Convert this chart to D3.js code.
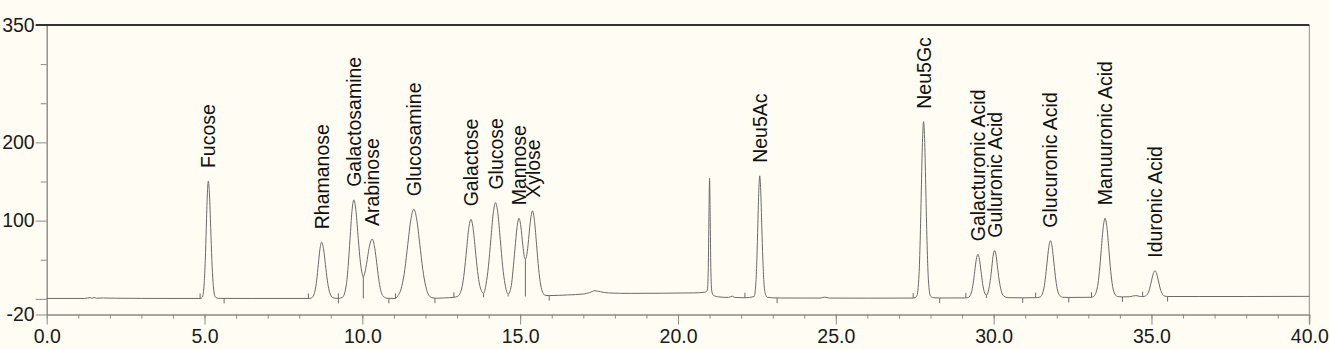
<!DOCTYPE html>
<html lang="en">
<head>
<meta charset="UTF-8">
<script src="https://d3js.org/d3.v7.min.js"></script>
<title>Monosaccharide chromatogram</title>
<style>
  body { margin: 0; background: #fffdf3; }
  svg { display: block; }
  text { font-family: "Liberation Sans", Arial, sans-serif; }
</style>
</head>
<body>
<svg id="chart" width="1329" height="349"></svg>
<script>
// retention time (min) and detector signal
const traceTime = [0, 1.2, 1.38, 1.44, 1.5, 1.58, 1.8, 2.2, 3.0, 4.0, 4.86, 4.93, 4.99, 5.024, 5.056, 5.088, 5.12, 5.158, 5.195, 5.233, 5.27, 5.30, 5.345, 5.45, 6.5,
  8.29, 8.395, 8.50, 8.553, 8.605, 8.658, 8.71, 8.77, 8.83, 8.89, 8.95, 9.01, 9.07, 9.24,
  9.37, 9.49, 9.55, 9.61, 9.67, 9.73, 9.80, 9.87, 9.94, 9.99, 10.03, 10.07, 10.13, 10.18, 10.24, 10.31, 10.38, 10.44, 10.50, 10.56, 10.62, 10.70, 10.78, 10.84,
  11.05, 11.12, 11.25, 11.345, 11.44, 11.535, 11.63, 11.725, 11.82, 11.915, 12.01, 12.10, 12.20, 12.35, 12.6, 12.9,
  13.02, 13.16, 13.23, 13.30, 13.37, 13.44, 13.51, 13.58, 13.65, 13.72, 13.79, 13.84, 13.92, 13.995, 14.07, 14.145, 14.22, 14.295, 14.37, 14.445, 14.52, 14.62,
  14.72, 14.77, 14.835, 14.90, 14.96, 15.02, 15.085, 15.13, 15.165, 15.20, 15.25, 15.32, 15.39, 15.455, 15.52, 15.585, 15.65, 15.715, 15.78, 15.92,
  16.5, 17.0, 17.2, 17.37, 17.55, 17.8, 18.5, 19.5, 20.5, 20.85, 20.93, 20.96, 20.98, 21.0, 21.02, 21.04, 21.07, 21.12, 21.3, 21.6, 21.72, 21.8, 22.12,
  22.41, 22.47, 22.50, 22.53, 22.56, 22.59, 22.62, 22.655, 22.688, 22.72, 22.77, 22.83, 23.14, 24.5, 24.65, 24.8, 26.0,
  27.45, 27.564, 27.636, 27.672, 27.708, 27.744, 27.78, 27.816, 27.852, 27.888, 27.924, 27.96, 28.0, 28.1, 28.29,
  29.12, 29.2, 29.3, 29.35, 29.4, 29.45, 29.50, 29.55, 29.60, 29.65, 29.70, 29.77, 29.83, 29.88, 29.93, 29.98, 30.03, 30.08, 30.13, 30.19, 30.25, 30.33, 30.45, 30.92,
  31.33, 31.47, 31.58, 31.635, 31.69, 31.745, 31.80, 31.855, 31.91, 31.97, 32.03, 32.10, 32.20, 32.38,
  33.1, 33.17, 33.29, 33.35, 33.41, 33.47, 33.53, 33.59, 33.65, 33.71, 33.77, 33.84, 33.92, 34.08, 34.3, 34.5, 34.65,
  34.72, 34.78, 34.89, 34.945, 35.0, 35.055, 35.11, 35.165, 35.22, 35.28, 35.34, 35.42, 35.51, 36.5, 38.0, 40.0];
const traceSignal = [0.5, 0.5, 1.6, 0.7, 1.8, 0.8, 1.1, 0.8, 0.6, 0.5, 0.5, 2.2, 20.5, 49.3, 91.5, 132.8, 150.5, 132.8, 91.5, 49.3, 20.8, 8.9, 2.2, 0.6, 0.5,
  0.5, 1.3, 10.2, 23.9, 44.1, 63.9, 72.3, 63.9, 44.1, 23.9, 10.2, 3.7, 1.3, 0.6,
  1.9, 17.5, 41.5, 77, 111.6, 126.5, 111.6, 77, 46, 33, 28, 32, 44, 57, 70, 76.5, 68, 51, 31, 15, 6, 2, 0.8, 0.6,
  0.5, 3.5, 15.9, 37.5, 69.7, 101, 114.5, 101, 69.7, 37.5, 15.9, 5, 1.5, 0.8, 1.2, 2,
  3.1, 15.4, 34.3, 62.4, 89.8, 101.6, 89.8, 62.5, 35, 17, 9, 7, 19, 41.7, 75.6, 108.8, 123, 108.8, 75.6, 41.7, 19, 6,
  17, 35.5, 63.7, 91.2, 103, 93, 68, 54.3, 50.5, 54, 69, 98, 112.5, 99, 69, 38.4, 17.7, 8.3, 4.7, 4.2,
  5, 6.2, 8, 10.4, 9, 7.5, 7, 7.2, 7.6, 8.5, 11, 40, 105, 154, 105, 40, 10, 4.5, 2.5, 1.8, 3.5, 1.8, 1.4,
  2.9, 22, 52, 95.9, 138.8, 157.2, 138.8, 92, 51, 22, 6, 2, 1.1, 1, 2.2, 1, 0.9,
  1, 3.5, 31.4, 74.3, 137.8, 199.8, 226.4, 199.8, 137.8, 74.3, 31.4, 10.9, 3.5, 1.4, 1.1,
  1.2, 1.8, 8.7, 19.3, 35.1, 50.4, 57, 50.4, 35.3, 19.6, 9.5, 4.8, 9.5, 20, 35.6, 54.5, 61.6, 54.5, 37.9, 20, 8.7, 3.3, 1.5, 1.3,
  1.5, 2.3, 11.3, 25.2, 45.7, 65.7, 74.3, 65.7, 45.7, 24, 10, 4, 2, 1.8,
  2, 3.1, 15.6, 34.8, 63.3, 91.1, 103, 91.1, 63.3, 34.8, 15.6, 6, 3, 2.5, 2.7, 4.2, 3,
  2.8, 3.2, 7.3, 13.6, 23, 32.1, 36, 32.1, 23, 12.8, 6.5, 3.6, 3, 3, 3, 3.2];

const peakNames = ["Fucose", "Rhamanose", "Galactosamine", "Arabinose", "Glucosamine", "Galactose", "Glucose",
  "Mannose", "Xylose", "Neu5Ac", "Neu5Gc", "Galacturonic Acid", "Guluronic Acid", "Glucuronic Acid",
  "Manuuronic Acid", "Iduronic Acid"];
const peakTimes = [5.12, 8.71, 9.73, 10.31, 11.63, 13.44, 14.22, 14.96, 15.39, 22.59, 27.78, 29.50, 30.03, 31.80, 33.53, 35.11];
const peakHeights = [150.5, 72.3, 126.5, 76.5, 114.5, 101.6, 123, 103, 112.5, 157.2, 226.4, 57, 61.6, 74.3, 103, 36];

// integration marks
const startMarks = [4.86, 8.29, 9.24, 11.05, 12.9, 22.12, 27.45, 29.12, 31.33, 33.1, 34.72];
const endMarks = [5.62, 9.24, 10.84, 12.3, 15.92, 23.14, 28.29, 30.92, 32.38, 34.08, 35.51];
const dropTimes = [10.03, 13.84, 14.62, 15.165, 29.77];
const dropBase = [0.5, 2, 3, 3, 1.2];

const xMajor = [0, 5, 10, 15, 20, 25, 30, 35, 40];
const xMinor = d3.range(0, 41, 1);
const yMajor = [350, 200, 100, 0, -20];
const yLabels = [350, 200, 100, -20];
const yMinor = [300, 250, 150, 50];

const svg = d3.select("#chart");
const plotLeft = 46.7, plotRight = 1309.3, plotTop = 25, plotBottom = 314.5;

const x = d3.scaleLinear().domain([0, 40]).range([plotLeft, plotRight]);
const y = d3.scaleLinear().domain([-20, 350]).range([plotBottom, plotTop]);
const signalAt = d3.scaleLinear().domain(traceTime).range(traceSignal);

const axisColor = "#8a8a8a";
const fontFam = "'Liberation Sans', Arial, sans-serif";

// x axis
svg.append("g")
  .attr("transform", `translate(0,${plotBottom})`)
  .call(d3.axisBottom(x).tickValues(xMinor).tickSize(4).tickSizeOuter(0).tickFormat(""))
  .call(g => g.selectAll("line,path").attr("stroke", axisColor));
svg.append("g")
  .attr("transform", `translate(0,${plotBottom})`)
  .call(d3.axisBottom(x).tickValues(xMajor).tickSize(10).tickSizeOuter(0).tickPadding(5).tickFormat(d3.format(".1f")))
  .call(g => g.selectAll("line,path").attr("stroke", axisColor))
  .call(g => g.selectAll("text").attr("font-size", "19.5px").attr("fill", "#1a1a1a").attr("font-family", fontFam));

// y axis
svg.append("g")
  .attr("transform", `translate(${plotLeft},0)`)
  .call(d3.axisLeft(y).tickValues(yMinor).tickSize(6).tickSizeOuter(0).tickFormat(""))
  .call(g => g.selectAll("line,path").attr("stroke", axisColor));
svg.append("g")
  .attr("transform", `translate(${plotLeft},0)`)
  .call(d3.axisLeft(y).tickValues(yMajor).tickSize(11).tickSizeOuter(0).tickPadding(1)
    .tickFormat(d => yLabels.includes(d) ? d : ""))
  .call(g => g.selectAll("line,path").attr("stroke", axisColor))
  .call(g => g.selectAll("text").attr("font-size", "19.5px").attr("fill", "#1a1a1a").attr("font-family", fontFam));

// right border and top line
svg.append("line")
  .attr("x1", plotRight).attr("x2", plotRight).attr("y1", plotTop).attr("y2", plotBottom + 10)
  .attr("stroke", axisColor);
svg.append("line")
  .attr("x1", plotLeft - 11).attr("x2", plotRight).attr("y1", plotTop).attr("y2", plotTop)
  .attr("stroke", "#333").attr("stroke-width", 2);

const traceColor = "#6a6a6a";

// chromatogram
const line = d3.line()
  .x((d, i) => x(traceTime[i]))
  .y(d => y(d))
  .curve(d3.curveMonotoneX);

svg.append("path")
  .attr("d", line(traceSignal))
  .attr("fill", "none")
  .attr("stroke", traceColor)
  .attr("stroke-width", 1);

// peak start / end marks and valley drop lines
svg.append("g").selectAll("line")
  .data(startMarks).join("line")
  .attr("x1", d => x(d)).attr("x2", d => x(d))
  .attr("y1", d => y(signalAt(d))).attr("y2", d => y(signalAt(d)) - 5)
  .attr("stroke", traceColor);
svg.append("g").selectAll("line")
  .data(endMarks).join("line")
  .attr("x1", d => x(d)).attr("x2", d => x(d))
  .attr("y1", d => y(signalAt(d))).attr("y2", d => y(signalAt(d)) + 5)
  .attr("stroke", traceColor);
svg.append("g").selectAll("line")
  .data(dropTimes).join("line")
  .attr("x1", d => x(d)).attr("x2", d => x(d))
  .attr("y1", d => y(signalAt(d))).attr("y2", (d, i) => y(dropBase[i]))
  .attr("stroke", traceColor);

// peak labels
svg.append("g").selectAll("text")
  .data(peakNames).join("text")
  .attr("transform", (d, i) => `translate(${x(peakTimes[i])},${y(peakHeights[i]) - 13}) rotate(-90)`)
  .attr("dy", "0.36em")
  .attr("font-size", "19.5px")
  .attr("fill", "#111")
  .text(d => d);
</script>
</body>
</html>
